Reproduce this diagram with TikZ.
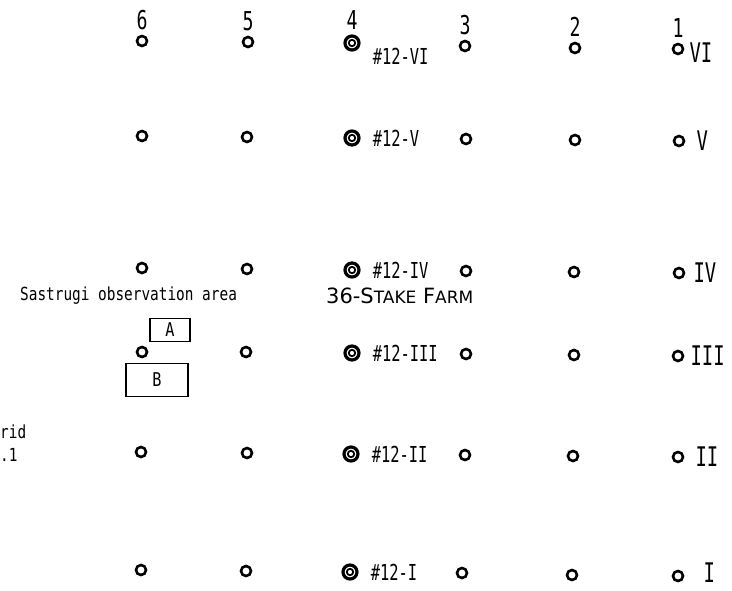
\documentclass[tikz,border=0pt]{standalone}
\usepackage{fontspec}
\setmonofont{DejaVu Sans Mono}
\newfontfamily\narrowfont{DejaVu Sans Mono}[FakeStretch=0.7]
\newfontfamily\plotfont{DejaVu Sans Mono}[FakeStretch=0.8]
\newfontfamily\farmfont{DejaVu Sans}
\usepackage{tikz}
\usetikzlibrary{positioning}
\tikzset{
  stake/.style={circle, draw, line width=2.6pt, minimum size=10pt, inner sep=0pt},
  bigstake/.style={circle, draw, line width=3.2pt, minimum size=14pt, inner sep=0pt, path picture={\draw[line width=1.8pt] (path picture bounding box.center) circle (3.2pt);}},
  colnum/.style={font=\narrowfont\fontsize{26}{26}\selectfont, inner sep=0pt},
  rownum/.style={font=\narrowfont\fontsize{27}{27}\selectfont, inner sep=0pt},
  stakelabel/.style={font=\narrowfont\fontsize{22}{22}\selectfont, inner sep=0pt},
  plottext/.style={font=\plotfont\fontsize{18}{20}\selectfont, inner sep=0pt},
  plotbox/.style={draw, line width=1.8pt, inner sep=0pt, font=\plotfont\fontsize{19}{19}\selectfont}
}
\begin{document}
\begin{tikzpicture}[x=1pt, y=-1pt]
  \useasboundingbox (0,0) rectangle (732,590);
  \node[stake] (s6-6) at (142,41) {};
  \node[stake] (s5-6) at (248,42) {};
  \node[bigstake] (s4-6) at (352,43) {};
  \node[stake] (s3-6) at (465,46) {};
  \node[stake] (s2-6) at (575,48) {};
  \node[stake] (s1-6) at (678,49) {};
  \node[stake] (s6-5) at (142,136) {};
  \node[stake] (s5-5) at (247,137) {};
  \node[bigstake] (s4-5) at (352,138) {};
  \node[stake] (s3-5) at (466,139) {};
  \node[stake] (s2-5) at (575,140) {};
  \node[stake] (s1-5) at (679,141) {};
  \node[stake] (s6-4) at (142,268) {};
  \node[stake] (s5-4) at (247,269) {};
  \node[bigstake] (s4-4) at (352,270) {};
  \node[stake] (s3-4) at (466,271) {};
  \node[stake] (s2-4) at (574,272) {};
  \node[stake] (s1-4) at (679,273) {};
  \node[stake] (s6-3) at (142,352) {};
  \node[stake] (s5-3) at (246,352) {};
  \node[bigstake] (s4-3) at (352,353) {};
  \node[stake] (s3-3) at (466,354) {};
  \node[stake] (s2-3) at (574,355) {};
  \node[stake] (s1-3) at (678,356) {};
  \node[stake] (s6-2) at (141,452) {};
  \node[stake] (s5-2) at (247,453) {};
  \node[bigstake] (s4-2) at (351,454) {};
  \node[stake] (s3-2) at (465,455) {};
  \node[stake] (s2-2) at (573,456) {};
  \node[stake] (s1-2) at (678,457) {};
  \node[stake] (s6-1) at (141,570) {};
  \node[stake] (s5-1) at (246,571) {};
  \node[bigstake] (s4-1) at (350,572) {};
  \node[stake] (s3-1) at (462,573) {};
  \node[stake] (s2-1) at (572,575) {};
  \node[stake] (s1-1) at (678,576) {};
  \node[colnum, above=5pt of s6-6] (col6) {6};
  \node[colnum, above=5pt of s5-6] (col5) {5};
  \node[colnum, above=5pt of s4-6] (col4) {4};
  \node[colnum, above=5pt of s3-6] (col3) {3};
  \node[colnum, above=5pt of s2-6] (col2) {2};
  \node[colnum, above=5pt of s1-6] (col1) {1};
  \node[rownum, right=5pt of s1-6, yshift=-4pt] (row6) {VI};
  \node[rownum, right=11pt of s1-5] (row5) {V};
  \node[rownum, right=8pt of s1-4] (row4) {IV};
  \node[rownum, right=6pt of s1-3] (row3) {III};
  \node[rownum, right=11pt of s1-2] (row2) {II};
  \node[rownum, right=19pt of s1-1, yshift=3pt] (row1) {I};
  \node[stakelabel, right=12pt of s4-6, yshift=-13pt] (lab6) {\#12-VI};
  \node[stakelabel, right=12pt of s4-5] (lab5) {\#12-V};
  \node[stakelabel, right=12pt of s4-4] (lab4) {\#12-IV};
  \node[stakelabel, right=12pt of s4-3] (lab3) {\#12-III};
  \node[stakelabel, right=12pt of s4-2] (lab2) {\#12-II};
  \node[stakelabel, right=12pt of s4-1] (lab1) {\#12-I};
  \node[plottext, anchor=west] (area) at (20,296) {Sastrugi observation area};
  \node[font=\farmfont\fontsize{21}{21}\selectfont, inner sep=0pt, anchor=west] (farm) at (326,296) {36-S{\fontsize{17}{17}\selectfont TAKE} F{\fontsize{17}{17}\selectfont ARM}};
  \node[plotbox, minimum width=40pt, minimum height=23pt] (boxA) at (170,330) {A};
  \node[plotbox, minimum width=62pt, minimum height=33pt] (boxB) at (157,380) {B};
  \node[plottext, anchor=west] (grid) at (0,432) {rid};
  \node[plottext, anchor=west] (gridno) at (0,455) {.1};
\end{tikzpicture}
\end{document}
